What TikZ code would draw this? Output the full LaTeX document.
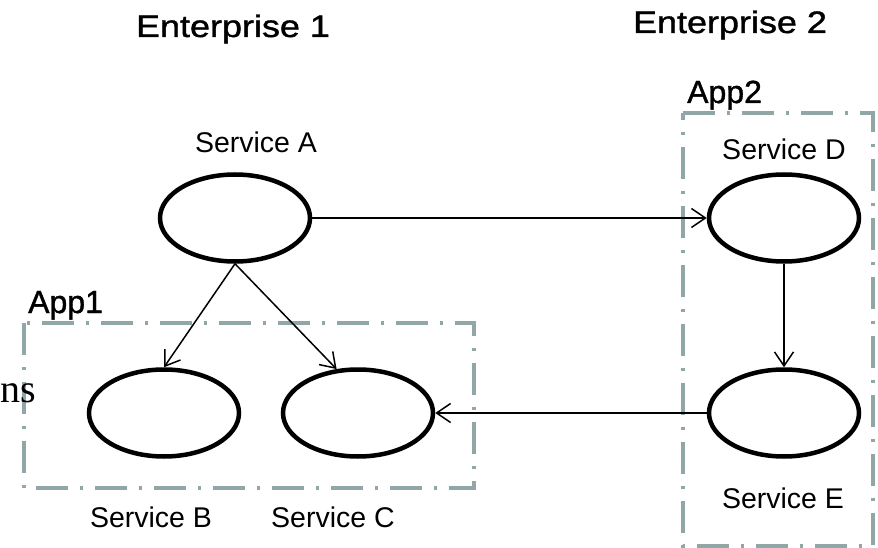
\documentclass[tikz,border=0pt]{standalone}
\usepackage{fontspec}
\setmainfont{Liberation Sans}
\newfontfamily\serifface{Liberation Serif}
\newfontfamily\titleface[FakeBold=1.2]{Liberation Sans}
\usetikzlibrary{arrows.meta,shapes.geometric}
\definecolor{boxgray}{RGB}{145,166,166}
\begin{document}
\begin{tikzpicture}[x=1pt,y=-1pt,
  svc/.style={ellipse,draw=black,line width=4.5pt,inner sep=0pt,minimum width=150pt,minimum height=87pt},
  conn/.style={line width=1.5pt,-{Straight Barb[length=14pt,width=19pt,line width=1.5pt]}},
  appbox/.style={draw=boxgray,line width=4pt,dash pattern=on 32pt off 12pt on 3pt off 12pt},
  lbl/.style={font=\fontsize{28.5}{30}\selectfont,anchor=base,inner sep=0pt},
  ttl/.style={font=\titleface\fontsize{31}{33}\selectfont,anchor=base,inner sep=0pt},
  applbl/.style={font=\titleface\fontsize{32}{34}\selectfont,anchor=base west,inner sep=0pt}]
\useasboundingbox (0,0) rectangle (878,548);
% app boxes
\draw[appbox] (24,323) rectangle (474,488);
\draw[appbox] (683,113) -- (873,113) -- (873,546) -- (683,546) -- cycle;
% titles
\node[ttl] (t1) at (233,37) {\scalebox{1.16}[1]{Enterprise 1}};
\node[ttl] (t2) at (730,33) {\scalebox{1.16}[1]{Enterprise 2}};
\node[applbl] (app1) at (28,313) {App1};
\node[applbl] (app2) at (687,103) {App2};
\node[font=\serifface\fontsize{40}{42}\selectfont,anchor=base west,inner sep=0pt] (ns) at (0,402) {ns};
% services
\node[svc] (A) at (235,218) {};
\node[svc] (D) at (784,218) {};
\node[svc] (E) at (784,413) {};
\node[svc] (B) at (164,413) {};
\node[svc] (C) at (358,413) {};
% labels
\node[lbl] (la) at (256,153) {Service A};
\node[lbl] (ld) at (784,160) {Service D};
\node[lbl] (le) at (783,508) {Service E};
\node[lbl] (lb) at (151,527) {Service B};
\node[lbl] (lc) at (333,527) {Service C};
% connectors
\draw[conn] (A.east) -- (D.west);
\draw[conn] (D.south) -- (E.north);
\draw[conn] (E.west) -- (C.east);
\draw[conn] (A.south) -- (B.north);
\draw[conn] (A.south) -- (C.116);
\end{tikzpicture}
\end{document}
